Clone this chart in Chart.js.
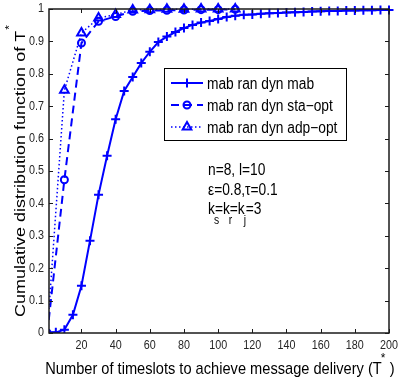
<!DOCTYPE html>
<html>
<head>
<meta charset="utf-8">
<script src="https://cdn.jsdelivr.net/npm/chart.js@4.4.0/dist/chart.umd.min.js"></script>
<style>
  html, body { margin: 0; padding: 0; background: #fff; }
</style>
</head>
<body>
<canvas id="cdfChart" width="400" height="382"></canvas>
<script>
// --- series data ---
const seriesNames = ['mab ran dyn mab', 'mab ran dyn sta\u2212opt', 'mab ran dyn adp\u2212opt'];

const mabSlots = [0, 5, 10, 15, 20, 25, 30, 35, 40, 45, 50, 55, 60, 65, 70, 75, 80, 85, 90, 95, 100,
                  105, 110, 115, 120, 125, 130, 135, 140, 145, 150, 155, 160, 165, 170, 175, 180, 185, 190, 195, 200];
const mabCdf = [0, 0.002, 0.01, 0.056, 0.146, 0.285, 0.427, 0.547, 0.66, 0.747, 0.79, 0.833, 0.868, 0.898, 0.915, 0.929, 0.941, 0.951, 0.958, 0.963, 0.969,
                0.975, 0.979, 0.982, 0.983, 0.985, 0.987, 0.988, 0.989, 0.99, 0.991, 0.992, 0.993, 0.994, 0.994, 0.995, 0.995, 0.996, 0.996, 0.997, 0.997];

const optSlots = [0, 10, 20, 30, 40, 50, 60, 70, 80, 90, 100, 110];
const staOptCdf = [0, 0.473, 0.895, 0.962, 0.977, 0.993, 0.995, 0.996, 0.997, 0.998, 0.998, 0.999];
const adpOptCdf = [0, 0.749, 0.926, 0.972, 0.983, 0.997, 0.998, 0.999, 0.999, 1, 1, 1];

const xTicks = [20, 40, 60, 80, 100, 120, 140, 160, 180, 200];
const yTicks = [0, 0.1, 0.2, 0.3, 0.4, 0.5, 0.6, 0.7, 0.8, 0.9, 1];

const BLUE = '#0000ff';
const FONT = "'Liberation Sans', Arial, sans-serif";
const SQUEEZE = 0.86;   // the figure's text is narrower than Arial

const toPoints = (xs, ys) => xs.map((x, i) => ({ x: x, y: ys[i] }));

// draw text with an extra horizontal/vertical scale
function scaledText(ctx, text, x, y, sx, sy) {
    ctx.save();
    ctx.translate(x, y);
    ctx.scale(sx, sy);
    ctx.fillText(text, 0, 0);
    ctx.restore();
}

// box + inward ticks on all four sides, tick labels
const framePlugin = {
    id: 'frame',
    afterDatasetsDraw(chart) {
        const { ctx, chartArea: a, scales } = chart;
        ctx.save();
        ctx.strokeStyle = '#1a1a1a';
        ctx.lineWidth = 1.5;
        ctx.strokeRect(a.left, a.top, a.right - a.left, a.bottom - a.top);
        ctx.lineWidth = 1;
        ctx.beginPath();
        xTicks.forEach(v => {
            const px = Math.round(scales.x.getPixelForValue(v)) + 0.5;
            ctx.moveTo(px, a.bottom); ctx.lineTo(px, a.bottom - 4);
            ctx.moveTo(px, a.top); ctx.lineTo(px, a.top + 4);
        });
        yTicks.forEach(v => {
            const py = Math.round(scales.y.getPixelForValue(v)) + 0.5;
            ctx.moveTo(a.left, py); ctx.lineTo(a.left + 4, py);
            ctx.moveTo(a.right, py); ctx.lineTo(a.right - 4, py);
        });
        ctx.stroke();

        ctx.fillStyle = '#262626';
        ctx.font = '12.5px ' + FONT;
        ctx.textAlign = 'center';
        ctx.textBaseline = 'middle';
        xTicks.forEach(v => {
            scaledText(ctx, String(v), scales.x.getPixelForValue(v), a.bottom + 13, SQUEEZE, 1);
        });
        ctx.textAlign = 'right';
        yTicks.forEach(v => {
            scaledText(ctx, String(v), a.left - 5, scales.y.getPixelForValue(v), SQUEEZE, 1);
        });
        ctx.restore();
    }
};

// axis titles, legend box and the parameter note
const labelsPlugin = {
    id: 'labels',
    afterDraw(chart) {
        const ctx = chart.ctx;
        ctx.save();
        ctx.fillStyle = '#000';
        ctx.textBaseline = 'alphabetic';
        ctx.textAlign = 'left';

        // x title
        ctx.font = '17px ' + FONT;
        const xMain = 'Number of timeslots to achieve message delivery (T';
        const wMain = ctx.measureText(xMain).width * SQUEEZE;
        const wEnd = ctx.measureText('  )').width * SQUEEZE;
        const x0 = 220 - (wMain + wEnd) / 2;
        scaledText(ctx, xMain, x0, 374, SQUEEZE, 1);
        scaledText(ctx, '  )', x0 + wMain, 374, SQUEEZE, 1);
        ctx.font = '12px ' + FONT;
        ctx.fillText('*', x0 + wMain - 1, 362);

        // y title (rotated: along-text unscaled, glyph height squeezed)
        ctx.save();
        ctx.translate(25, 317);
        ctx.rotate(-Math.PI / 2);
        ctx.font = '18px ' + FONT;
        const yMain = 'Cumulative distribution function of T';
        const wy = ctx.measureText(yMain).width;
        scaledText(ctx, yMain, 0, 0, 1, SQUEEZE);
        ctx.font = '12px ' + FONT;
        scaledText(ctx, '*', wy + 1, -12, 1, SQUEEZE);
        ctx.restore();

        // legend
        const box = { x: 164, y: 68, w: 182, h: 72 };
        ctx.fillStyle = '#fff';
        ctx.fillRect(box.x, box.y, box.w, box.h);
        ctx.strokeStyle = '#000';
        ctx.lineWidth = 1;
        ctx.strokeRect(box.x + 0.5, box.y + 0.5, box.w, box.h);
        chart.data.datasets.forEach((ds, i) => {
            const ry = 83 + i * 22;
            ctx.save();
            ctx.strokeStyle = ds.borderColor;
            ctx.lineWidth = ds.borderWidth;
            ctx.setLineDash(ds.borderDash || []);
            ctx.beginPath();
            ctx.moveTo(171, ry); ctx.lineTo(203, ry);
            ctx.stroke();
            ctx.setLineDash([]);
            ctx.lineWidth = ds.pointBorderWidth;
            ctx.fillStyle = 'rgba(0,0,0,0)';
            Chart.helpers.drawPoint(ctx, {
                pointStyle: ds.pointStyle, radius: ds.pointRadius, rotation: 0,
                borderWidth: ds.pointBorderWidth
            }, 187, ry);
            ctx.restore();
            ctx.fillStyle = '#000';
            ctx.font = '16px ' + FONT;
            scaledText(ctx, ds.label, 207, ry + 6, SQUEEZE, 1);
        });

        // parameters
        ctx.fillStyle = '#000';
        const pf = '16px ' + FONT;
        ctx.font = pf;
        scaledText(ctx, 'n=8, l=10', 208, 175, SQUEEZE, 1);
        scaledText(ctx, '\u03b5=0.8,\u03c4=0.1', 208, 195, SQUEEZE, 1);
        let kx = 208;
        const kParts = [['k', 's'], ['=k', 'r'], ['=k', 'j']];
        kParts.forEach(([main, sub]) => {
            ctx.font = pf;
            scaledText(ctx, main, kx, 214, SQUEEZE, 1);
            kx += ctx.measureText(main).width * SQUEEZE;
            ctx.font = '12px ' + FONT;
            scaledText(ctx, sub, kx - 1, 224, SQUEEZE, 1);
        });
        ctx.font = pf;
        scaledText(ctx, '=3', kx + 1, 214, SQUEEZE, 1);
        ctx.restore();
    }
};

const areaClip = { left: 0, top: 8, right: 8, bottom: 0 };

new Chart(document.getElementById('cdfChart'), {
    type: 'line',
    data: {
        datasets: [
            {
                label: seriesNames[0],
                data: toPoints(mabSlots, mabCdf),
                borderColor: BLUE, borderWidth: 2, clip: areaClip,
                pointStyle: 'cross', pointRadius: 4.5, pointBorderWidth: 2,
                pointBorderColor: BLUE, pointBackgroundColor: 'rgba(0,0,0,0)'
            },
            {
                label: seriesNames[1],
                data: toPoints(optSlots, staOptCdf),
                borderColor: BLUE, borderWidth: 2, borderDash: [8, 5], clip: areaClip,
                pointStyle: 'circle', pointRadius: 3.5, pointBorderWidth: 2,
                pointBorderColor: BLUE, pointBackgroundColor: 'rgba(0,0,0,0)'
            },
            {
                label: seriesNames[2],
                data: toPoints(optSlots, adpOptCdf),
                borderColor: BLUE, borderWidth: 1.5, borderDash: [1.5, 2.5], clip: areaClip,
                pointStyle: 'triangle', pointRadius: 5, pointBorderWidth: 2,
                pointBorderColor: BLUE, pointBackgroundColor: 'rgba(0,0,0,0)'
            }
        ]
    },
    options: {
        responsive: false,
        devicePixelRatio: 1,
        animation: false,
        layout: { padding: { top: 9, right: 11, left: 0, bottom: 0 } },
        elements: { line: { tension: 0, fill: false } },
        plugins: { legend: { display: false }, tooltip: { enabled: false } },
        scales: {
            x: {
                type: 'linear', min: 1, max: 200,
                afterBuildTicks: s => { s.ticks = xTicks.map(v => ({ value: v })); },
                afterFit: s => { s.height = 49; },
                grid: { display: false, drawTicks: false },
                border: { display: false },
                ticks: { display: false }
            },
            y: {
                type: 'linear', min: 0, max: 1,
                afterBuildTicks: s => { s.ticks = yTicks.map(v => ({ value: v })); },
                afterFit: s => { s.width = 49; },
                grid: { display: false, drawTicks: false },
                border: { display: false },
                ticks: { display: false }
            }
        }
    },
    plugins: [framePlugin, labelsPlugin]
});
</script>
</body>
</html>
